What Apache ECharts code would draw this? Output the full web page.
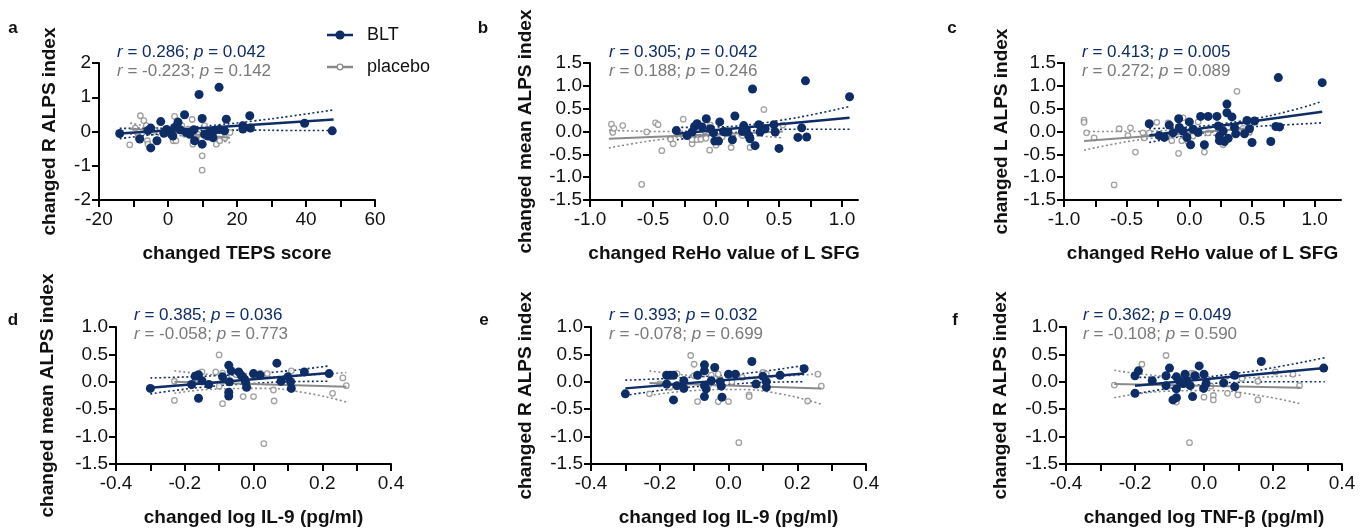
<!DOCTYPE html>
<html><head><meta charset="utf-8">
<script src="https://cdn.jsdelivr.net/npm/echarts@6/dist/echarts.min.js"></script>
<style>html,body{margin:0;padding:0;background:#fff}#c{width:1366px;height:528px}</style>
</head><body><div id="c"></div>
<script>
// ---------- DATA ----------
const xNames = ['changed TEPS score','changed ReHo value of L SFG','changed ReHo value of L SFG','changed log IL-9 (pg/ml)','changed log IL-9 (pg/ml)','changed log TNF-β (pg/ml)'];
const yNames = ['changed R ALPS index','changed mean ALPS index','changed L ALPS index','changed mean ALPS index','changed R ALPS index','changed R ALPS index'];
const letters = ['a','b','c','d','e','f'];
const legendNames = ['BLT','placebo'];
const rBLT = ['0.286','0.305','0.413','0.385','0.393','0.362'];
const pBLT = ['0.042','0.042','0.005','0.036','0.032','0.049'];
const rPLA = ['-0.223','0.188','0.272','-0.058','-0.078','-0.108'];
const pPLA = ['0.142','0.246','0.089','0.773','0.699','0.590'];

const xTicksA = [-20,-10,0,10,20,30,40,50,60];
const xLabelsA = [-20,0,20,40,60];
const xTicksReHo = [-1,-0.75,-0.5,-0.25,0,0.25,0.5,0.75,1];
const xLabelsReHo = [-1,-0.5,0,0.5,1];
const xTicksLog = [-0.4,-0.3,-0.2,-0.1,0,0.1,0.2,0.3,0.4];
const xLabelsLog = [-0.4,-0.2,0,0.2,0.4];
const yTicksA = [-2,-1,0,1,2];
const yTicksTop = [-1.5,-1,-0.5,0,0.5,1,1.5];
const yTicksBottom = [-1.5,-1,-0.5,0,0.5,1];

// panel a
const aBLT = [[-14,-0.06],[-8.2,-0.22],[-5,-0.48],[-5,0.1],[-5.8,0.03],[-3.2,-0.27],[-2.1,0.29],[-0.4,0.06],[1,-0.08],[1.9,0.12],[2.9,0.27],[1.4,-0.13],[4.8,0.49],[5.3,-0.03],[6.3,-0.08],[7.5,0.05],[9,1.08],[14.8,1.29],[9.9,0.38],[7.7,-0.27],[9.9,-0.37],[10.6,-0.08],[11.6,-0.13],[13,-0.18],[12.1,-0.02],[13.5,0.03],[14.9,0.06],[16.9,0.36],[16.4,0.02],[21.7,0.17],[21.7,0.07],[23.7,0.46],[23.9,0.1],[39.6,0.24],[47.6,0.02],[0.3,0.0],[3.5,0.05],[-1.2,-0.05]];
const aPLA = [[-11.1,-0.39],[-8,0.46],[-7,0.32],[-6.3,0.17],[-6,-0.27],[-5.8,-0.37],[-8.7,-0.17],[1.9,0.44],[2.7,0.32],[4,0.17],[1.5,-0.27],[2.3,-0.27],[7,0.35],[5.8,0.07],[7.2,-0.37],[8.6,-0.08],[9.9,-0.71],[9.9,-1.13],[9.7,-0.22],[10.6,0.17],[14,-0.37],[15,-0.27],[13.5,-0.21],[16.5,-0.18],[11.6,-0.03],[4.8,-0.08],[-3.8,0.03],[8.1,-0.27],[18,-0.03],[-9.5,0.1]];
const aFitBLT = [[-14,-0.06],[48,0.35]];
const aCiBLTu = [[-14,0.09],[-5,0.09],[5,0.12],[15,0.2],[25,0.31],[35,0.44],[48,0.63]];
const aCiBLTl = [[-14,-0.21],[-5,-0.1],[5,0.0],[15,0.04],[25,0.04],[35,0.03],[48,0.03]];
const aFitPLA = [[-11,0.09],[18,-0.18]];
const aCiPLAu = [[-11,0.25],[-2,0.08],[5,0.02],[12,-0.0],[18,-0.02]];
const aCiPLAl = [[-11,-0.08],[-2,-0.1],[5,-0.13],[12,-0.2],[18,-0.33]];

// panel b
const bBLT = [[-0.315,0.02],[-0.23,-0.09],[-0.19,-0.01],[-0.17,0.11],[-0.15,0.17],[-0.11,0.1],[-0.077,0.28],[-0.045,0.06],[-0.02,-0.03],[-0.01,-0.21],[0.02,-0.21],[0.03,0.21],[0.06,0.0],[0.07,-0.01],[0.095,-0.01],[0.13,-0.18],[0.15,0.34],[0.21,0.0],[0.22,0.13],[0.24,0.04],[0.26,-0.09],[0.27,-0.16],[0.29,0.93],[0.31,-0.31],[0.34,0.15],[0.35,-0.01],[0.39,0.06],[0.46,0.15],[0.47,-0.01],[0.5,-0.37],[0.65,-0.13],[0.68,0.08],[0.72,-0.12],[0.71,1.11],[1.06,0.76]];
const bPLA = [[-0.83,0.16],[-0.82,-0.02],[-0.81,0.07],[-0.74,0.13],[-0.59,-1.16],[-0.55,-0.01],[-0.48,0.19],[-0.46,0.15],[-0.43,-0.42],[-0.36,-0.17],[-0.34,-0.27],[-0.26,0.27],[-0.19,-0.27],[-0.19,-0.18],[-0.15,-0.18],[-0.12,-0.17],[-0.05,-0.41],[-0.045,0.14],[0.0,-0.3],[0.12,-0.35],[0.27,-0.35],[0.38,0.48],[0.53,0.14],[0.05,-0.12],[0.21,-0.09],[-0.09,0.01],[-0.08,-0.15]];
const bFitBLT = [[-0.31,-0.05],[1.06,0.3]];
const bCiBLTu = [[-0.31,0.09],[0,0.1],[0.2,0.13],[0.5,0.24],[0.8,0.39],[1.06,0.55]];
const bCiBLTl = [[-0.31,-0.18],[0,-0.07],[0.2,-0.01],[0.5,0.05],[0.8,0.05],[1.06,0.05]];
const bFitPLA = [[-0.85,-0.16],[0.53,0.0]];
const bCiPLAu = [[-0.85,0.03],[-0.4,0.0],[-0.1,0.03],[0.2,0.08],[0.53,0.16]];
const bCiPLAl = [[-0.85,-0.36],[-0.4,-0.16],[-0.1,-0.1],[0.2,-0.09],[0.53,-0.14]];

// panel c
const cBLT = [[-0.32,0.17],[-0.24,-0.09],[-0.2,-0.13],[-0.16,0.14],[-0.13,-0.03],[-0.085,0.28],[-0.08,0.09],[-0.05,0.01],[-0.02,-0.13],[0.0,0.21],[0.01,-0.29],[0.03,0.05],[0.07,-0.02],[0.09,0.33],[0.12,-0.29],[0.15,0.33],[0.22,0.33],[0.23,0.12],[0.24,-0.1],[0.24,-0.2],[0.27,0.01],[0.28,-0.22],[0.3,0.6],[0.3,0.41],[0.31,-0.15],[0.34,0.32],[0.36,0.09],[0.37,-0.05],[0.44,-0.05],[0.46,0.24],[0.48,0.06],[0.5,-0.24],[0.52,0.23],[0.65,-0.22],[0.69,0.11],[0.72,0.1],[0.71,1.18],[1.06,1.07]];
const cPLA = [[-0.84,0.25],[-0.84,0.2],[-0.82,-0.03],[-0.76,-0.14],[-0.56,0.06],[-0.47,0.08],[-0.49,-0.09],[-0.43,-0.45],[-0.37,-0.03],[-0.36,-0.14],[-0.32,-0.03],[-0.6,-1.17],[-0.26,0.2],[-0.17,0.19],[-0.14,-0.2],[-0.086,-0.48],[-0.05,0.3],[-0.06,-0.2],[-0.01,-0.23],[0.03,-0.1],[0.12,-0.45],[0.27,-0.29],[0.38,0.88],[0.48,-0.01],[0.07,0.21],[0.15,-0.03],[0.43,0.07]];
const cFitBLT = [[-0.32,-0.09],[1.06,0.43]];
const cCiBLTu = [[-0.32,0.06],[0,0.1],[0.2,0.15],[0.5,0.27],[0.8,0.45],[1.06,0.66]];
const cCiBLTl = [[-0.32,-0.24],[0,-0.08],[0.2,0.0],[0.5,0.1],[0.8,0.15],[1.06,0.19]];
const cFitPLA = [[-0.84,-0.21],[0.5,0.07]];
const cCiPLAu = [[-0.84,0.0],[-0.4,0.0],[-0.1,0.04],[0.2,0.09],[0.5,0.2]];
const cCiPLAl = [[-0.84,-0.41],[-0.4,-0.18],[-0.1,-0.11],[0.2,-0.08],[0.5,-0.07]];

// panel d
const dBLT = [[-0.3,-0.12],[-0.18,-0.05],[-0.17,0.1],[-0.16,0.13],[-0.16,-0.3],[-0.15,0.02],[-0.13,-0.05],[-0.09,0.09],[-0.072,0.3],[-0.072,-0.19],[-0.072,-0.26],[-0.07,0.0],[-0.065,0.2],[-0.043,0.18],[-0.036,0.12],[-0.026,0.05],[-0.023,-0.01],[-0.02,-0.1],[0.0,0.15],[0.019,0.12],[0.068,0.34],[0.08,0.01],[0.1,0.09],[0.108,0.0],[0.11,-0.12],[0.148,0.18],[0.22,0.15]];
const dPLA = [[-0.23,0.01],[-0.23,-0.34],[-0.15,0.18],[-0.11,0.18],[-0.1,0.49],[-0.1,-0.08],[-0.09,0.16],[-0.09,-0.4],[-0.03,-0.27],[0.0,-0.27],[0.04,0.15],[0.03,-1.13],[0.058,-0.15],[0.06,-0.35],[0.11,0.2],[0.23,-0.21],[0.26,0.07],[0.27,-0.07],[-0.05,0.13],[0.02,0.16]];
const dFitBLT = [[-0.3,-0.11],[0.22,0.16]];
const dCiBLTu = [[-0.3,0.07],[-0.15,0.1],[0.0,0.15],[0.1,0.2],[0.22,0.29]];
const dCiBLTl = [[-0.3,-0.22],[-0.15,-0.1],[0.0,-0.03],[0.1,0.0],[0.22,0.01]];
const dFitPLA = [[-0.23,0.0],[0.27,-0.09]];
const dCiPLAu = [[-0.23,0.2],[-0.1,0.12],[0.02,0.09],[0.15,0.12],[0.27,0.17]];
const dCiPLAl = [[-0.23,-0.21],[-0.1,-0.13],[0.02,-0.12],[0.15,-0.2],[0.27,-0.37]];

// panel e
const eBLT = [[-0.3,-0.22],[-0.18,0.12],[-0.17,0.12],[-0.16,0.12],[-0.18,-0.04],[-0.16,-0.33],[-0.15,-0.07],[-0.13,0.02],[-0.13,-0.12],[-0.09,0.12],[-0.07,0.31],[-0.07,0.2],[-0.07,-0.07],[-0.07,-0.27],[-0.065,-0.13],[-0.05,0.02],[-0.04,0.26],[-0.024,0.0],[-0.021,-0.08],[-0.019,-0.28],[0.0,0.14],[0.02,0.14],[0.068,0.37],[0.08,-0.04],[0.1,0.1],[0.11,0.0],[0.11,-0.1],[0.15,0.12],[0.22,0.24]];
const ePLA = [[-0.23,-0.22],[-0.17,-0.1],[-0.15,0.15],[-0.11,0.48],[-0.1,0.32],[-0.1,0.11],[-0.09,-0.36],[-0.05,0.12],[-0.03,0.14],[-0.03,-0.36],[0.0,-0.36],[0.01,0.0],[0.03,-1.11],[0.04,0.08],[0.06,-0.24],[0.06,-0.27],[0.1,0.17],[0.11,0.14],[0.23,-0.35],[0.26,0.14],[0.27,-0.08],[-0.2,-0.04]];
const eFitBLT = [[-0.3,-0.12],[0.22,0.15]];
const eCiBLTu = [[-0.3,0.03],[-0.15,0.07],[0.0,0.13],[0.1,0.19],[0.22,0.3]];
const eCiBLTl = [[-0.3,-0.25],[-0.15,-0.12],[0.0,-0.05],[0.1,-0.01],[0.22,0.0]];
const eFitPLA = [[-0.23,-0.02],[0.27,-0.12]];
const eCiPLAu = [[-0.23,0.2],[-0.1,0.11],[0.02,0.08],[0.15,0.1],[0.27,0.15]];
const eCiPLAl = [[-0.23,-0.25],[-0.1,-0.16],[0.02,-0.14],[0.15,-0.22],[0.27,-0.41]];

// panel f
const fBLT = [[-0.2,-0.21],[-0.2,0.11],[-0.19,0.2],[-0.15,0.02],[-0.11,0.11],[-0.11,-0.07],[-0.1,0.25],[-0.09,-0.33],[-0.08,-0.29],[-0.08,0.09],[-0.08,-0.13],[-0.07,0.0],[-0.06,-0.03],[-0.055,0.14],[-0.05,0.02],[-0.04,-0.07],[-0.033,-0.27],[-0.026,0.11],[-0.014,0.29],[-0.001,-0.12],[0.0,0.14],[0.006,-0.03],[0.057,-0.02],[0.089,0.12],[0.089,-0.09],[0.166,0.37],[0.347,0.25]];
const fPLA = [[-0.26,-0.06],[-0.18,0.32],[-0.11,0.48],[-0.08,-0.37],[-0.036,0.16],[-0.03,0.15],[0.0,-0.28],[0.02,-0.08],[0.027,-0.25],[0.027,-0.33],[0.068,-0.21],[0.098,-0.24],[0.11,0.06],[0.156,0.01],[0.156,-0.33],[0.207,0.18],[0.258,0.14],[0.277,-0.07],[-0.042,-1.11],[-0.06,-0.05],[0.01,0.05]];
const fFitBLT = [[-0.2,-0.07],[0.35,0.25]];
const fCiBLTu = [[-0.2,0.08],[-0.05,0.08],[0.1,0.16],[0.22,0.28],[0.35,0.44]];
const fCiBLTl = [[-0.2,-0.22],[-0.05,-0.08],[0.1,-0.01],[0.22,0.0],[0.35,0.0]];
const fFitPLA = [[-0.26,-0.04],[0.28,-0.11]];
const fCiPLAu = [[-0.26,0.21],[-0.1,0.09],[0.02,0.06],[0.15,0.08],[0.28,0.12]];
const fCiPLAl = [[-0.26,-0.29],[-0.1,-0.17],[0.02,-0.16],[0.15,-0.24],[0.28,-0.4]];

// ---------- LAYOUT / STYLE ----------
const NAVY = '#0e2d66', GRAY = '#8a8a8a', TGRAY = '#7a7a7a', INK = '#111';
const FONT = '"Liberation Sans", Arial, Helvetica, sans-serif';

const P = [
  {g:{left:99,top:63,width:276,height:137}, xr:[-20,60], yr:[-2,2], xt:xTicksA, xl:xLabelsA, xd:0, yt:yTicksA, yd:0, yGap:40, lx:13, ly:28, tx:117, ty:52,
   blt:aBLT, pla:aPLA, fb:aFitBLT, bu:aCiBLTu, bl:aCiBLTl, fp:aFitPLA, pu:aCiPLAu, pl:aCiPLAl},
  {g:{left:590,top:63,width:268,height:137}, xr:[-1,1.127], yr:[-1.5,1.5], xt:xTicksReHo, xl:xLabelsReHo, xd:1, yt:yTicksTop, yd:1, yGap:55, lx:483, ly:28, tx:609, ty:52,
   blt:bBLT, pla:bPLA, fb:bFitBLT, bu:bCiBLTu, bl:bCiBLTl, fp:bFitPLA, pu:bCiPLAu, pl:bCiPLAl},
  {g:{left:1064,top:63,width:277,height:137}, xr:[-1,1.21], yr:[-1.5,1.5], xt:xTicksReHo, xl:xLabelsReHo, xd:1, yt:yTicksTop, yd:1, yGap:53, lx:952, ly:28, tx:1082, ty:52,
   blt:cBLT, pla:cPLA, fb:cFitBLT, bu:cCiBLTu, bl:cCiBLTl, fp:cFitPLA, pu:cCiPLAu, pl:cCiPLAl},
  {g:{left:116,top:327,width:275,height:137}, xr:[-0.4,0.4], yr:[-1.5,1.0], xt:xTicksLog, xl:xLabelsLog, xd:1, yt:yTicksBottom, yd:1, yGap:59, lx:13, ly:320, tx:134, ty:315,
   blt:dBLT, pla:dPLA, fb:dFitBLT, bu:dCiBLTu, bl:dCiBLTl, fp:dFitPLA, pu:dCiPLAu, pl:dCiPLAl},
  {g:{left:591,top:327,width:275,height:137}, xr:[-0.4,0.4], yr:[-1.5,1.0], xt:xTicksLog, xl:xLabelsLog, xd:1, yt:yTicksBottom, yd:1, yGap:56, lx:484, ly:320, tx:609, ty:315,
   blt:eBLT, pla:ePLA, fb:eFitBLT, bu:eCiBLTu, bl:eCiBLTl, fp:eFitPLA, pu:eCiPLAu, pl:eCiPLAl},
  {g:{left:1066,top:327,width:276,height:137}, xr:[-0.4,0.4], yr:[-1.5,1.0], xt:xTicksLog, xl:xLabelsLog, xd:1, yt:yTicksBottom, yd:1, yGap:56, lx:955, ly:320, tx:1083, ty:315,
   blt:fBLT, pla:fPLA, fb:fFitBLT, bu:fCiBLTu, bl:fCiBLTl, fp:fFitPLA, pu:fCiPLAu, pl:fCiPLAl}
];

const grids = [], xAxes = [], yAxes = [], series = [], graphics = [];
const fmt = (v, d) => Number(v).toFixed(d);

P.forEach((p, i) => {
  grids.push(Object.assign({outerBoundsMode:'none', containLabel:false}, p.g));
  const axisCommon = {
    type:'value', gridIndex:i, splitLine:{show:false}, minorTick:{show:false},
    axisLine:{show:true, onZero:false, lineStyle:{color:'#000', width:2}},
    nameLocation:'middle',
    nameTextStyle:{fontSize:19, fontWeight:'bold', color:INK, fontFamily:FONT}
  };
  xAxes.push(Object.assign({}, axisCommon, {
    min:p.xr[0], max:p.xr[1], position:'bottom',
    axisTick:{show:true, length:7, inside:false, customValues:p.xt, lineStyle:{color:'#000', width:2}},
    axisLabel:{customValues:p.xl, formatter:v=>fmt(v,p.xd), fontSize:19, color:INK, fontFamily:FONT, margin:10},
    name:xNames[i], nameGap:44
  }));
  yAxes.push(Object.assign({}, axisCommon, {
    min:p.yr[0], max:p.yr[1], position:'left',
    axisTick:{show:true, length:7, inside:false, customValues:p.yt, lineStyle:{color:'#000', width:2}},
    axisLabel:{customValues:p.yt, formatter:v=>fmt(v,p.yd), fontSize:19, color:INK, fontFamily:FONT, margin:8},
    name:yNames[i], nameGap:p.yGap
  }));
  const ci = (data, color, name) => ({name, type:'line', xAxisIndex:i, yAxisIndex:i, data, smooth:0.5, symbol:'none', silent:true,
    lineStyle:{color, width:1.6, type:[2,2.5]}, z:1});
  series.push(ci(p.pu, GRAY, 'pu'+i), ci(p.pl, GRAY, 'pl'+i));
  series.push(ci(p.bu, NAVY, 'bu'+i), ci(p.bl, NAVY, 'bl'+i));
  series.push({name:'pla'+i, type:'scatter', xAxisIndex:i, yAxisIndex:i, data:p.pla, symbol:'circle', symbolSize:5.5,
    itemStyle:{color:'#fff', borderColor:GRAY, borderWidth:1.3}, z:2});
  series.push({name:'fp'+i, type:'line', xAxisIndex:i, yAxisIndex:i, data:p.fp, symbol:'none', lineStyle:{color:GRAY, width:2}, z:3});
  series.push({name:'blt'+i, type:'scatter', xAxisIndex:i, yAxisIndex:i, data:p.blt, symbol:'circle', symbolSize:9,
    itemStyle:{color:NAVY, opacity:1}, z:4});
  series.push({name:'fb'+i, type:'line', xAxisIndex:i, yAxisIndex:i, data:p.fb, symbol:'none', lineStyle:{color:NAVY, width:2.5}, z:5});

  graphics.push({type:'text', x:p.lx, y:p.ly, style:{text:letters[i], fontSize:17, fontWeight:'bold', fontFamily:FONT, fill:INK, align:'center', verticalAlign:'middle'}});
  graphics.push({type:'text', x:p.tx, y:p.ty, style:{text:'{i|r} = '+rBLT[i]+'; {i|p} = '+pBLT[i], fontSize:17, fontFamily:FONT, fill:NAVY, verticalAlign:'middle',
    rich:{i:{fontStyle:'italic', fontSize:17, fontFamily:FONT, fill:NAVY}}}});
  graphics.push({type:'text', x:p.tx, y:p.ty+19, style:{text:'{i|r} = '+rPLA[i]+'; {i|p} = '+pPLA[i], fontSize:17, fontFamily:FONT, fill:TGRAY, verticalAlign:'middle',
    rich:{i:{fontStyle:'italic', fontSize:17, fontFamily:FONT, fill:TGRAY}}}});
});

// legend (drawn as graphic keys)
graphics.push({type:'line', shape:{x1:327, y1:35, x2:353, y2:35}, style:{stroke:NAVY, lineWidth:2.5}});
graphics.push({type:'circle', shape:{cx:340, cy:35, r:4.6}, style:{fill:NAVY}});
graphics.push({type:'text', x:367, y:35, style:{text:legendNames[0], fontSize:18, fontFamily:FONT, fill:INK, verticalAlign:'middle'}});
graphics.push({type:'line', shape:{x1:327, y1:67, x2:353, y2:67}, style:{stroke:GRAY, lineWidth:2.5}});
graphics.push({type:'circle', shape:{cx:340, cy:67, r:2.8}, style:{fill:'#fff', stroke:GRAY, lineWidth:1.3}, z:10});
graphics.push({type:'text', x:367, y:67, style:{text:legendNames[1], fontSize:18, fontFamily:FONT, fill:INK, verticalAlign:'middle'}});

const chart = echarts.init(document.getElementById('c'), null, {renderer:'canvas', width:1366, height:528});
chart.setOption({
  animation:false,
  backgroundColor:'#fff',
  grid:grids, xAxis:xAxes, yAxis:yAxes, series,
  graphic:graphics
});
</script></body></html>
